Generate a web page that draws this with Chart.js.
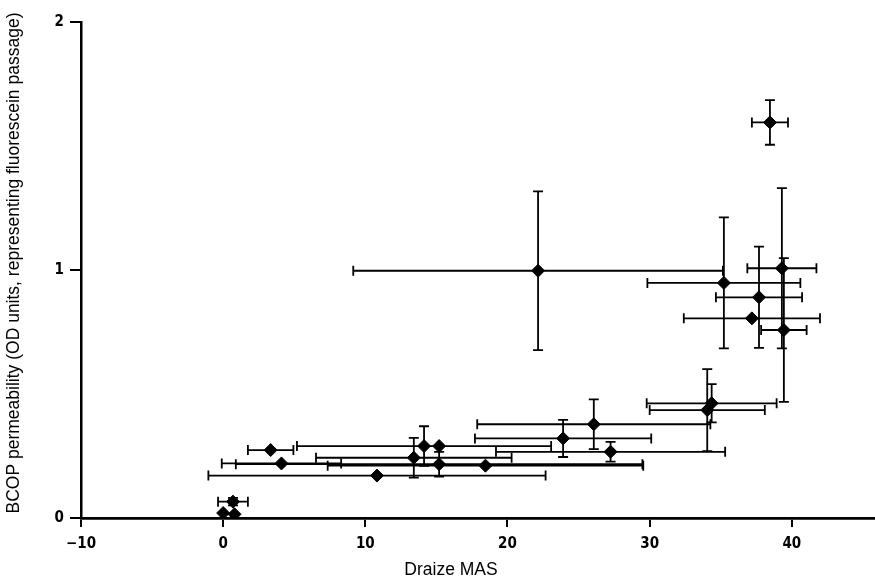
<!DOCTYPE html>
<html>
<head>
<meta charset="utf-8">
<script src="https://cdn.jsdelivr.net/npm/chart.js@4/dist/chart.umd.min.js"></script>
<style>
    html, body { margin: 0; padding: 0; background: #fff; }
    canvas { display: block; }
</style>
</head>
<body>
<canvas id="chart" width="875" height="583"></canvas>
<script>
// Draize MAS (x) vs BCOP permeability (y), with error bars
const draizeMAS = [22.15, 38.46, 35.22, 39.3, 37.69, 37.19, 39.44,
    34.36, 34.05, 26.07, 23.91, 27.25,
    3.34, 4.1, 10.82, 13.41, 14.13, 15.19, 15.19, 18.45,
    0.69, 0.0, 0.8];
const bcopOD = [0.997, 1.595, 0.948, 1.007, 0.89, 0.805, 0.758,
    0.4625, 0.435, 0.378, 0.321, 0.267,
    0.274, 0.22, 0.171, 0.243, 0.29, 0.29, 0.217, 0.211,
    0.066, 0.02, 0.015];
const draizeErr = [13.0, 1.27, 5.38, 2.43, 3.03, 4.79, 1.6,
    4.57, 4.05, 8.2, 6.2, 8.06,
    1.6, 4.2, 11.86, 6.88, 8.94, 0, 14.3, 11.1,
    1.05, 0, 0];
const bcopErr = [0.32, 0.09, 0.264, 0.323, 0.204, 0, 0.29,
    0.077, 0.165, 0.1, 0.075, 0.04,
    0, 0, 0, 0.08, 0.08, 0, 0.05, 0,
    0.015, 0, 0];

const xTicks = [-10, 0, 10, 20, 30, 40];
const yTicks = [0, 1, 2];
const xTitle = 'Draize MAS';
const yTitle = 'BCOP permeability (OD units, representing fluorescein passage)';

const tickFont = { family: "'Liberation Sans Narrow', 'DejaVu Sans Condensed', sans-serif", size: 15, weight: 'bold' };
const titleFont = "17.5px 'Liberation Sans', Arial, sans-serif";

const points = draizeMAS.map((x, i) => ({ x: x, y: bcopOD[i], xe: draizeErr[i], ye: bcopErr[i] }));

// error bars drawn under the diamonds
const errorBars = {
    id: 'errorBars',
    beforeDatasetsDraw(chart) {
        const ctx = chart.ctx;
        const xs = chart.scales.x;
        const ys = chart.scales.y;
        const cap = 5;
        ctx.save();
        ctx.strokeStyle = '#000';
        ctx.lineWidth = 1.8;
        points.forEach(p => {
            const px = xs.getPixelForValue(p.x);
            const py = ys.getPixelForValue(p.y);
            if (p.xe > 0) {
                const l = xs.getPixelForValue(p.x - p.xe);
                const r = xs.getPixelForValue(p.x + p.xe);
                ctx.beginPath();
                ctx.moveTo(l, py); ctx.lineTo(r, py);
                ctx.moveTo(l, py - cap); ctx.lineTo(l, py + cap);
                ctx.moveTo(r, py - cap); ctx.lineTo(r, py + cap);
                ctx.stroke();
            }
            if (p.ye > 0) {
                const t = ys.getPixelForValue(p.y + p.ye);
                const b = ys.getPixelForValue(p.y - p.ye);
                ctx.beginPath();
                ctx.moveTo(px, t); ctx.lineTo(px, b);
                ctx.moveTo(px - cap, t); ctx.lineTo(px + cap, t);
                ctx.moveTo(px - cap, b); ctx.lineTo(px + cap, b);
                ctx.stroke();
            }
        });
        ctx.restore();
    }
};

// axis titles, placed like the printed figure
const axisTitles = {
    id: 'axisTitles',
    afterDraw(chart) {
        const ctx = chart.ctx;
        ctx.save();
        ctx.fillStyle = '#000';
        ctx.font = titleFont;
        ctx.textAlign = 'center';
        ctx.textBaseline = 'middle';
        ctx.fillText(xTitle, 451, 570);
        ctx.translate(14, 263);
        ctx.rotate(-Math.PI / 2);
        ctx.fillText(yTitle, 0, 0);
        ctx.restore();
    }
};

new Chart(document.getElementById('chart').getContext('2d'), {
    type: 'scatter',
    data: {
        datasets: [{
            label: 'BCOP vs Draize',
            data: points,
            pointStyle: 'rectRot',
            pointRadius: 6.5,
            pointBorderWidth: 1,
            backgroundColor: '#000',
            borderColor: '#000'
        }]
    },
    options: {
        responsive: false,
        animation: false,
        devicePixelRatio: 1,
        layout: { autoPadding: false, padding: { top: 22, left: 0, right: 0, bottom: 0 } },
        plugins: {
            legend: { display: false },
            tooltip: { enabled: false }
        },
        scales: {
            x: {
                type: 'linear',
                min: -10,
                max: 45.85,
                afterBuildTicks: s => { s.ticks = xTicks.map(v => ({ value: v })); },
                afterFit: s => { s.height = 65; s.paddingLeft = 0; s.paddingRight = 0; },
                ticks: {
                    color: '#000',
                    font: tickFont,
                    padding: 8,
                    maxRotation: 0,
                    callback: v => (v < 0 ? '\u2212' + Math.abs(v) : String(v))
                },
                grid: { drawOnChartArea: false, drawTicks: true, tickLength: 9, color: '#000', lineWidth: 2 },
                border: { display: true, color: '#000', width: 2.8 }
            },
            y: {
                type: 'linear',
                min: 0,
                max: 2,
                afterBuildTicks: s => { s.ticks = yTicks.map(v => ({ value: v })); },
                afterFit: s => { s.width = 81; },
                ticks: { color: '#000', font: tickFont, padding: 6 },
                grid: { drawOnChartArea: false, drawTicks: true, tickLength: 11, color: '#000', lineWidth: 2 },
                border: { display: true, color: '#000', width: 2.5 }
            }
        }
    },
    plugins: [errorBars, axisTitles]
});
</script>
</body>
</html>
